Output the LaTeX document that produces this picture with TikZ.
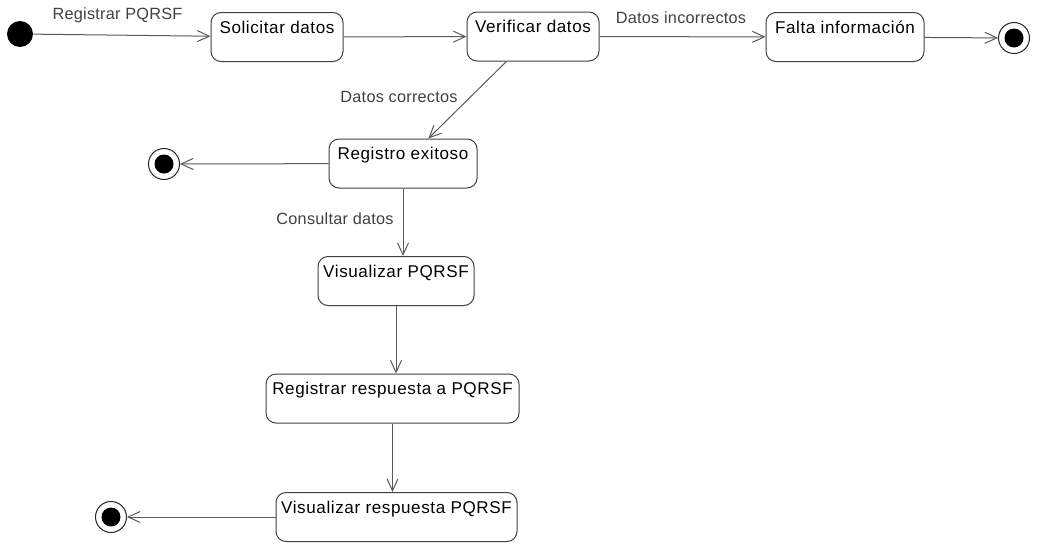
\documentclass[tikz,border=0pt]{standalone}
\usepackage{fontspec}
\setmainfont{Liberation Sans}
\newfontfamily\boxfont[LetterSpace=3.5]{Liberation Sans}
\newfontfamily\lblfont[LetterSpace=1.5]{Liberation Sans}
\usetikzlibrary{arrows.meta,calc}

\begin{document}
% one coordinate unit = 0.75pt
\begin{tikzpicture}[x=0.75pt,y=-0.75pt,
  statebox/.style={draw=black!75, line width=0.75pt, rounded corners=7.5pt,
    minimum height=36.75pt, inner xsep=0pt, inner ysep=0pt,
    text height=15.375pt, text depth=21.375pt,
    font=\boxfont\fontsize{12.8pt}{14pt}\selectfont, text=black},
  startdot/.style={circle, fill=black, inner sep=0pt, minimum size=19.5pt},
  enddot/.style={circle, draw=black!85, fill=white, line width=0.75pt, inner sep=0pt,
    minimum size=23.25pt,
    path picture={\fill[black] (path picture bounding box.center) circle (7.125pt);}},
  flow/.style={draw=black!65, line width=0.75pt,
    -{Straight Barb[length=9pt, width=8.25pt, line width=0.75pt]}},
  lbl/.style={font=\lblfont\fontsize{12.2pt}{14pt}\selectfont, text=black!75,
    inner sep=0pt, anchor=base}
]
\path[use as bounding box] (0,0) rectangle (1037,546);

% states
\node[startdot] (init) at (20,34) {};
\node[statebox, minimum width=99pt] (solicitar) at (277,37) {Solicitar datos};
\node[statebox, minimum width=99pt] (verificar) at (533,36.5) {Verificar datos};
\node[statebox, minimum width=118.5pt] (falta) at (845,37) {Falta información};
\node[enddot] (fin1) at (1014,38) {};
\node[statebox, minimum width=111pt] (registro) at (403,163.5) {Registro exitoso};
\node[enddot] (fin2) at (164,164) {};
\node[statebox, minimum width=117pt] (visual) at (396,281) {Visualizar PQRSF};
\node[statebox, minimum width=189.75pt] (regresp) at (392.5,398.5) {Registrar respuesta a PQRSF};
\node[statebox, minimum width=180.75pt] (visresp) at (396.5,517) {Visualizar respuesta PQRSF};
\node[enddot] (fin3) at (111,517) {};

% transitions
\draw[flow] (init) -- (solicitar);
\draw[flow] (solicitar) -- (verificar);
\draw[flow] (verificar) -- (falta);
\draw[flow] (falta) -- (fin1);
\draw[flow] ($(verificar.south west)!0.3!(verificar.south east)$)
  -- ($(registro.north west)!0.67!(registro.north east)$);
\draw[flow] (registro) -- (fin2);
\draw[flow] (registro.south) -- (registro.south |- visual.north);
\draw[flow] (visual.south) -- (visual.south |- regresp.north);
\draw[flow] (regresp.south) -- (regresp.south |- visresp.north);
\draw[flow] (visresp) -- (fin3);

% transition labels
\node[lbl] (lregistrar) at (117.5,19.5) {Registrar PQRSF};
\node[lbl] (lincorr) at (681,23.5) {Datos incorrectos};
\node[lbl] (lcorr) at (399,102.5) {Datos correctos};
\node[lbl] (lconsult) at (335,224.5) {Consultar datos};
\end{tikzpicture}
\end{document}
